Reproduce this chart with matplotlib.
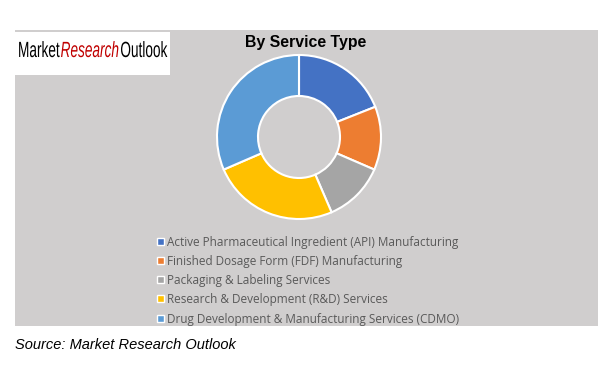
import matplotlib.pyplot as plt
from matplotlib.patches import Rectangle, PathPatch
from matplotlib.textpath import TextPath
from matplotlib.font_manager import FontProperties
from matplotlib.transforms import Affine2D

labels = [
    "Active Pharmaceutical Ingredient (API) Manufacturing",
    "Finished Dosage Form (FDF) Manufacturing",
    "Packaging & Labeling Services",
    "Research & Development (R&D) Services",
    "Drug Development & Manufacturing Services (CDMO)",
]
shares = [19.0, 12.5, 12.0, 25.0, 31.5]
colors = ["#4472C4", "#ED7D31", "#A5A5A5", "#FFC000", "#5B9BD5"]

W, H = 612, 373
fig = plt.figure(figsize=(W / 100, H / 100), dpi=100)
fig.patch.set_facecolor("white")

# background layer in pixel coordinates (y down)
bg = fig.add_axes([0, 0, 1, 1], zorder=0)
bg.set_xlim(0, W)
bg.set_ylim(H, 0)
bg.axis("off")

bg.add_patch(Rectangle((15, 30), 583, 296, facecolor="#D0CECE", edgecolor="none"))
bg.add_patch(Rectangle((15, 32), 155, 43, facecolor="white", edgecolor="none"))


def logo_word(x, y, s, color, italic=False, size=22, sx=0.62):
    fp = FontProperties(family="Liberation Sans", style="italic" if italic else "normal")
    tp = TextPath((0, 0), s, size=size, prop=fp)
    tr = Affine2D().scale(sx, -1).translate(x, y) + bg.transData
    bg.add_patch(PathPatch(tp, transform=tr, facecolor=color, edgecolor="none"))
    ext = tp.get_extents()
    return x + ext.x1 * sx


# logo: condensed lettering
x = 18
x = logo_word(x, 57, "Market", "black") + 1
x = logo_word(x, 57, "Research", "#C00000", italic=True) + 2
logo_word(x, 57, "Outlook", "black")

# title
fig.text(306 / W, 1 - 43 / H, "By Service Type", fontsize=11.4, fontweight="bold",
         family="Liberation Sans", ha="center", va="center")

# donut
cx, cy, half = 299, 137, 85
ax = fig.add_axes([(cx - half) / W, 1 - (cy + half) / H, 2 * half / W, 2 * half / H],
                  zorder=2)
ax.pie(shares, colors=colors, startangle=90, counterclock=False,
       radius=82 / half,
       wedgeprops=dict(width=41 / half, edgecolor="white", linewidth=1.5))
ax.set_xlim(-1, 1)
ax.set_ylim(-1, 1)
ax.set_aspect("equal")
ax.axis("off")

# legend
row_y = [241, 260, 279, 298, 318]
for lab, col, yy in zip(labels, colors, row_y):
    bg.add_patch(Rectangle((157, yy - 3.5), 7, 7, facecolor=col,
                           edgecolor="white", linewidth=1))
    bg.text(167, yy + 1.5, lab, fontsize=8.5, family="Open Sans",
            color="#595959", ha="left", va="center")

# source
fig.text(15 / W, 1 - 345 / H, "Source: Market Research Outlook", fontsize=10.5,
         family="Liberation Sans", style="italic", ha="left", va="center")

fig.savefig("out.png", dpi=100)
